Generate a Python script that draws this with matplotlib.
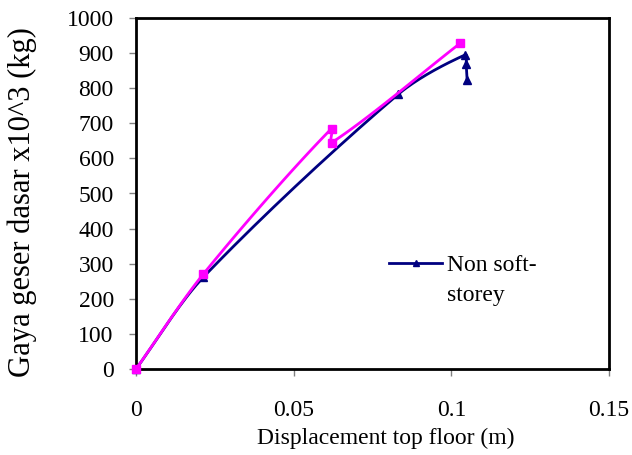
import numpy as np
import matplotlib
matplotlib.use("Agg")
import matplotlib.pyplot as plt
from matplotlib.lines import Line2D

plt.rcParams['font.family'] = ['Liberation Serif', 'DejaVu Serif']

# Data
nonsoft_x = [0.0, 0.0214, 0.0832, 0.1044, 0.1047, 0.1050]
nonsoft_y = [0, 262, 783, 895, 869, 824]
soft_x = [0.0, 0.0214, 0.0620, 0.0621, 0.1028]
soft_y = [0, 271, 685, 645, 928]

xticks = [0, 0.05, 0.1, 0.15]
xtick_labels = ['0', '0.05', '0.1', '0.15']
yticks = list(range(0, 1001, 100))

NAVY = '#000080'
MAGENTA = '#FF00FF'

W, H = 632, 455
fig = plt.figure(figsize=(W / 100, H / 100), dpi=100)
L, R, T, B = 136, 609, 18, 369
ax = fig.add_axes([L / W, 1 - B / H, (R - L) / W, (B - T) / H])
ax.set_xlim(0, 0.15)
ax.set_ylim(0, 1000)


def smooth(xs, ys, k=0.3, n=30):
    # Excel-like smoothed line: Bezier segments, handle length proportional to segment length
    sx, sy = (R - L) / 0.15, (B - T) / 1000.0
    P = np.column_stack([np.asarray(xs) * sx, np.asarray(ys) * sy])
    m = len(P)
    tang = []
    for i in range(m):
        a = P[max(i - 1, 0)]
        b = P[min(i + 1, m - 1)]
        d = b - a
        nrm = np.hypot(*d)
        tang.append(d / nrm if nrm > 0 else d)
    out = [P[0]]
    for i in range(m - 1):
        p1, p2 = P[i], P[i + 1]
        ln = np.hypot(*(p2 - p1))
        c1 = p1 + tang[i] * ln * k
        c2 = p2 - tang[i + 1] * ln * k
        t = np.linspace(0, 1, n)[1:, None]
        seg = ((1 - t) ** 3) * p1 + 3 * ((1 - t) ** 2) * t * c1 + 3 * (1 - t) * t ** 2 * c2 + t ** 3 * p2
        out.extend(seg)
    out = np.array(out)
    return out[:, 0] / sx, out[:, 1] / sy


nx, ny = smooth(nonsoft_x, nonsoft_y)
mx, my = smooth(soft_x, soft_y)
ax.plot(nx, ny, color=NAVY, lw=2, zorder=3, clip_on=False)
ax.plot(nonsoft_x, nonsoft_y, ls='none', marker='^', ms=6, color=NAVY, zorder=4, clip_on=False)
ax.plot(mx, my, color=MAGENTA, lw=2, zorder=5, clip_on=False)
ax.plot(soft_x, soft_y, ls='none', marker='s', ms=6, color=MAGENTA, zorder=6, clip_on=False)

ax.set_xticks(xticks)
ax.set_xticklabels(xtick_labels)
ax.set_yticks(yticks)
ax.tick_params(direction='out', length=5, width=1, color='#808080', labelsize=17)
ax.tick_params(axis='x', pad=17)
ax.tick_params(axis='y', pad=11)
for s in ax.spines.values():
    s.set_linewidth(2)
    s.set_color('black')

ax.set_xlabel('Displacement top floor (m)', fontsize=17)
ax.xaxis.set_label_coords((386 - L) / (R - L), -(438 - B) / (B - T))
ax.xaxis.label.set_va('center')
ax.set_ylabel('Gaya geser dasar x10^3 (kg)', fontsize=22)
ax.yaxis.set_label_coords(-(L - 22) / (R - L), (B - 202) / (B - T))
ax.yaxis.label.set_va('center')

h1 = Line2D([], [], color=NAVY, lw=2, marker='^', ms=5)
h2 = Line2D([], [], color='none', lw=0)
leg = ax.legend([h1, h2], ['Non soft-', 'storey'], frameon=False, fontsize=17,
                loc='upper left', bbox_to_anchor=((389 - L) / (R - L) - 0.02, (B - 245) / (B - T)),
                handlelength=2.25, handletextpad=0.2, labelspacing=0.35, borderaxespad=0)

fig.savefig('out.png', dpi=100)
